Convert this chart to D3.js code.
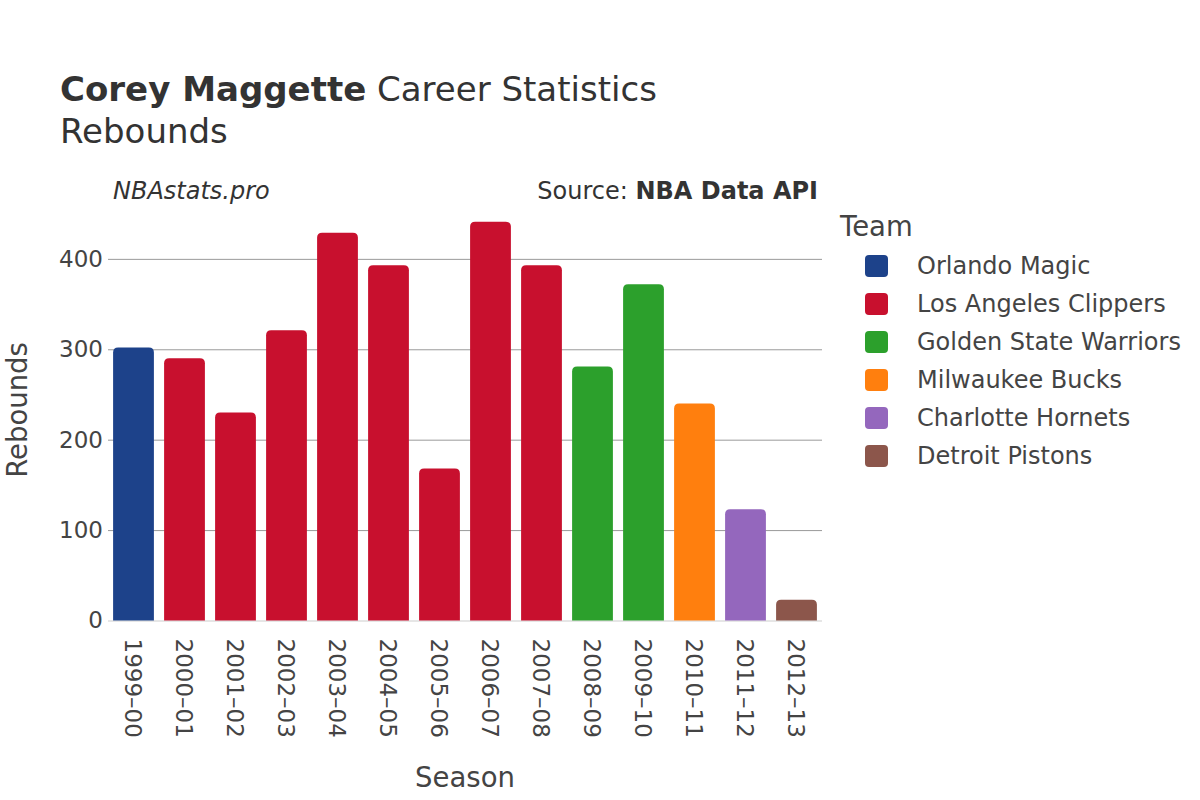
<!DOCTYPE html>
<html><head><meta charset="utf-8">
<script src="https://cdn.jsdelivr.net/npm/d3@7"></script>
<style>body{margin:0;background:#fff}svg{display:block;font-family:"DejaVu Sans",sans-serif}</style>
</head><body><svg id="chart" width="1200" height="800"></svg>
<script>
const seasons = ["1999–00","2000–01","2001–02","2002–03","2003–04","2004–05","2005–06","2006–07","2007–08","2008–09","2009–10","2010–11","2011–12","2012–13"];
const rebounds = [302,290,230,321,429,393,168,441,393,281,372,240,123,23];
const seasonTeams = ["Orlando Magic","Los Angeles Clippers","Los Angeles Clippers","Los Angeles Clippers","Los Angeles Clippers","Los Angeles Clippers","Los Angeles Clippers","Los Angeles Clippers","Los Angeles Clippers","Golden State Warriors","Golden State Warriors","Milwaukee Bucks","Charlotte Hornets","Detroit Pistons"];
const teams = ["Orlando Magic","Los Angeles Clippers","Golden State Warriors","Milwaukee Bucks","Charlotte Hornets","Detroit Pistons"];
const teamColors = ["#1d428a","#c8102e","#2ca02c","#ff7f0e","#9467bd","#8c564b"];
const yTicks = [0,100,200,300,400];

const svg = d3.select("#chart");
const pLeft = 108, pRight = 822, pTop = 201, pBottom = 620.5;
const x = d3.scaleBand().domain(seasons).range([pLeft, pRight]).paddingInner(0.2).paddingOuter(0.1);
const y = d3.scaleLinear().domain([0, 464]).range([pBottom, pTop]);
const color = d3.scaleOrdinal().domain(teams).range(teamColors);

// gridlines
const yAxis = d3.axisLeft(y).tickValues(yTicks).tickSize(-(pRight-pLeft)).tickPadding(5);
const gy = svg.append("g").attr("transform", `translate(${pLeft},0)`).call(yAxis);
gy.select(".domain").remove();
gy.selectAll(".tick line").attr("stroke", d => d === 0 ? "#e6e6e6" : "#9a9a9a").attr("stroke-width", d => d === 0 ? 2 : 1);
gy.selectAll(".tick text").attr("font-size", 23).attr("fill", "#444").attr("font-family", "DejaVu Sans");

// bars
const data = seasons.map((s, i) => ({season: s, value: rebounds[i], team: seasonTeams[i]}));
function barPath(d) {
  const x0 = x(d.season), w = x.bandwidth(), y0 = y(d.value), y1 = y(0);
  const r = Math.min(5, (y1 - y0) / 2);
  return `M${x0},${y1}V${y0 + r}Q${x0},${y0} ${x0 + r},${y0}H${x0 + w - r}Q${x0 + w},${y0} ${x0 + w},${y0 + r}V${y1}Z`;
}
svg.append("g").selectAll("path").data(data).join("path")
  .attr("d", barPath).attr("fill", d => color(d.team));

// x axis labels
const xAxis = d3.axisBottom(x).tickSize(0).tickPadding(0);
const gx = svg.append("g").attr("transform", `translate(0,${pBottom})`).call(xAxis);
gx.select(".domain").remove();
gx.selectAll(".tick text")
  .attr("font-size", 23).attr("fill", "#444").attr("font-family", "DejaVu Sans")
  .attr("transform", "translate(0,18) rotate(90)")
  .attr("text-anchor", "start").attr("dy", "0.35em").attr("y", 0).attr("x", 0);

// titles
const title = svg.append("text").attr("x", 60).attr("y", 101).attr("font-size", 34).attr("fill", "#333");
title.append("tspan").attr("font-weight", "bold").text("Corey Maggette");
title.append("tspan").text(" Career Statistics");
svg.append("text").attr("x", 60).attr("y", 143).attr("font-size", 34).attr("fill", "#333").text("Rebounds");

svg.append("text").attr("x", 113).attr("y", 199).attr("font-size", 24).attr("font-style", "italic").attr("fill", "#333").text("NBAstats.pro");
const src = svg.append("text").attr("x", 818).attr("y", 199).attr("font-size", 24).attr("text-anchor", "end").attr("fill", "#333");
src.append("tspan").text("Source: ");
src.append("tspan").attr("font-weight", "bold").text("NBA Data API");

svg.append("text").attr("x", 465).attr("y", 787).attr("font-size", 27.5).attr("text-anchor", "middle").attr("fill", "#444").text("Season");
svg.append("text").attr("transform", "translate(17,410) rotate(-90)").attr("font-size", 27.5).attr("text-anchor", "middle").attr("dy", "0.35em").attr("fill", "#444").text("Rebounds");

// legend
svg.append("text").attr("x", 840).attr("y", 236).attr("font-size", 27.5).attr("fill", "#444").text("Team");
const lg = svg.append("g").selectAll("g").data(teams).join("g")
  .attr("transform", (d, i) => `translate(0,${266 + i * 38})`);
lg.append("rect").attr("x", 865).attr("y", -11).attr("width", 23).attr("height", 22).attr("rx", 4).attr("fill", d => color(d));
lg.append("text").attr("x", 917).attr("y", 0).attr("dy", "0.35em").attr("font-size", 24).attr("fill", "#444").text(d => d);
</script></body></html>
